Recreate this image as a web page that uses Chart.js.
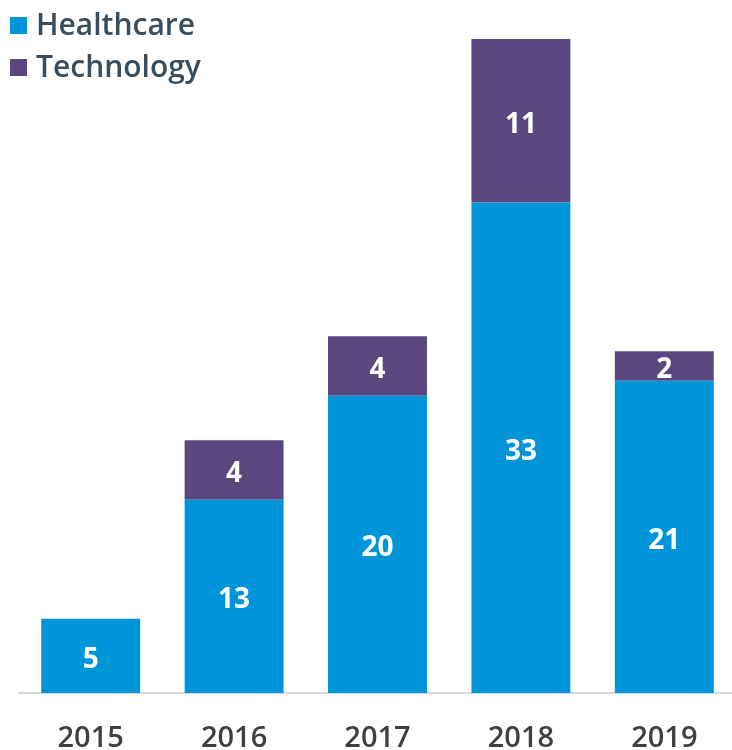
<!DOCTYPE html>
<html>
<head>
<meta charset="utf-8">
<script src="https://cdn.jsdelivr.net/npm/chart.js@4/dist/chart.umd.min.js"></script>
<style>
  html, body { margin: 0; padding: 0; background: #fff; overflow: hidden; }
  #wrap { width: 732px; height: 750px; position: relative; overflow: hidden; }
  #c { position: absolute; left: 0; top: 0; }
</style>
</head>
<body>
<div id="wrap"><canvas id="c" width="736" height="750"></canvas></div>
<script>
const years = ['2015', '2016', '2017', '2018', '2019'];
const healthcare = [5, 13, 20, 33, 21];
const technology = [0, 4, 4, 11, 2];
const seriesNames = ['Healthcare', 'Technology'];
const seriesColors = ['#0095d9', '#5a4780'];

const FONT = '"Open Sans", "DejaVu Sans", sans-serif';

// White value labels centred in each stacked segment
const segmentLabels = {
  id: 'segmentLabels',
  afterDatasetsDraw(chart) {
    const ctx = chart.ctx;
    ctx.save();
    ctx.fillStyle = '#ffffff';
    ctx.font = '700 28px ' + FONT;
    ctx.textAlign = 'center';
    ctx.textBaseline = 'middle';
    chart.data.datasets.forEach((ds, di) => {
      const meta = chart.getDatasetMeta(di);
      meta.data.forEach((bar, i) => {
        const v = ds.data[i];
        if (!v) return;
        const p = bar.getProps(['x', 'y', 'base'], true);
        ctx.fillText(String(v), p.x, (p.y + p.base) / 2 + 4);
      });
    });
    ctx.restore();
  }
};

// Stacked legend in the top-left corner
const cornerLegend = {
  id: 'cornerLegend',
  afterDraw(chart) {
    const ctx = chart.ctx;
    ctx.save();
    ctx.font = '600 30px ' + FONT;
    ctx.textBaseline = 'middle';
    ctx.textAlign = 'left';
    chart.data.datasets.forEach((ds, i) => {
      const cy = 25 + i * 42;
      ctx.fillStyle = ds.backgroundColor;
      ctx.fillRect(10, cy - 8, 17, 17);
      ctx.fillStyle = '#3a4d5c';
      ctx.fillText(ds.label, 36, cy + 1);
    });
    ctx.restore();
  }
};

new Chart(document.getElementById('c'), {
  type: 'bar',
  data: {
    labels: years,
    datasets: [
      { label: seriesNames[0], data: healthcare, backgroundColor: seriesColors[0] },
      { label: seriesNames[1], data: technology, backgroundColor: seriesColors[1] }
    ]
  },
  options: {
    responsive: false,
    animation: false,
    devicePixelRatio: 1,
    layout: { padding: { top: 39, left: 19, right: 0, bottom: 0 } },
    datasets: { bar: { barPercentage: 0.69, categoryPercentage: 1.0, borderWidth: 0 } },
    plugins: { legend: { display: false }, tooltip: { enabled: false } },
    scales: {
      x: {
        stacked: true,
        grid: { display: false, drawTicks: false },
        border: { display: true, color: '#d9d9d9', width: 2 },
        ticks: {
          color: '#404040',
          font: { family: FONT, size: 29, weight: '600' },
          padding: 28
        },
        afterFit(scale) { scale.height = 57; }
      },
      y: {
        stacked: true,
        display: false,
        min: 0,
        max: 44
      }
    }
  },
  plugins: [segmentLabels, cornerLegend]
});
</script>
</body>
</html>
